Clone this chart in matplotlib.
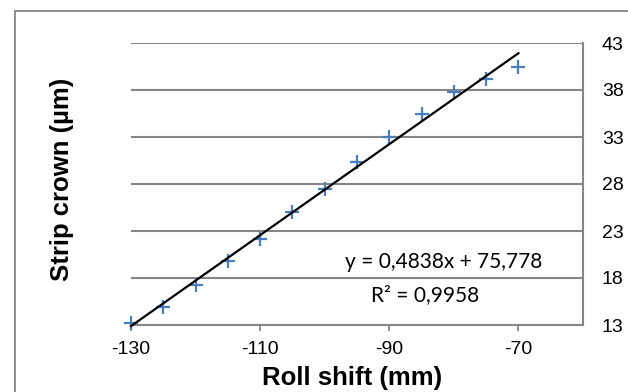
"""
Strip crown vs roll shift, scatter with linear trendline.
"""

import matplotlib.pyplot as plt
import numpy as np
from matplotlib.patches import Rectangle

roll_shift = [-130, -125, -120, -115, -110, -105, -100, -95, -90, -85, -80, -75, -70]
strip_crown = [13.2, 14.9, 17.3, 19.8, 22.2, 25.05, 27.5, 30.3, 33.0, 35.4, 37.8, 39.2, 40.5]
slope = 0.4838
intercept = 75.778
r_squared = "0,9958"
x_ticks = [-130, -110, -90, -70]
y_ticks = [13, 18, 23, 28, 33, 38, 43]

GRID = "#868686"
BLUE = "#4a7ebb"


def main() -> None:
    plt.rcParams["axes.unicode_minus"] = False
    plt.rcParams["font.family"] = "Liberation Sans"

    fig = plt.figure(figsize=(6.28, 3.92), dpi=100)
    ax = fig.add_axes([131 / 628, 1 - 325 / 392, 452 / 628, 282 / 392])

    # outer chart border (only top and left are inside the picture)
    fig.patches.append(Rectangle((15 / 628, -0.5), 2, (392 - 11) / 392 + 0.5,
                                 transform=fig.transFigure, fill=False,
                                 edgecolor=GRID, linewidth=1.3))

    ax.plot(roll_shift, strip_crown, linestyle="none", marker="+",
            markersize=10, markeredgewidth=1.6, color=BLUE, zorder=3,
            clip_on=False)

    xs = np.array([roll_shift[0], roll_shift[-1]])
    ax.plot(xs, slope * xs + intercept, color="black", linewidth=1.6,
            zorder=4, clip_on=False)

    ax.set_xlim(-130, -60)
    ax.set_ylim(13, 43)
    ax.set_xticks(x_ticks)
    ax.set_yticks(y_ticks)
    ax.grid(axis="y", color=GRID, linewidth=1.5)
    ax.set_axisbelow(True)

    for side in ["left", "top"]:
        ax.spines[side].set_visible(False)
    for side in ["right", "bottom"]:
        ax.spines[side].set_color(GRID)
        ax.spines[side].set_linewidth(1.5)

    ax.yaxis.tick_right()
    ax.tick_params(axis="y", length=0, pad=13.5, labelsize=14)
    ax.tick_params(axis="x", length=4.5, width=1.3, color=GRID, pad=7,
                   labelsize=14)

    ax.set_xlabel("Roll shift (mm)", fontsize=18.5, fontweight="bold")
    ax.xaxis.set_label_coords(0.49, -0.145)
    ax.set_ylabel("Strip crown (µm)", fontsize=18.5, fontweight="bold")
    ax.yaxis.set_label_position("left")
    ax.yaxis.set_label_coords(-0.125, 0.518)

    ax.text(-81.6, 19.7, "y = 0,4838x + 75,778", ha="center", va="center",
            fontsize=15, family="Lato")
    ax.text(-84.4, 16.2, f"R² = {r_squared}", ha="center", va="center",
            fontsize=15, family="Lato")

    fig.savefig("out.png", dpi=100)
    plt.close(fig)


if __name__ == "__main__":
    main()
